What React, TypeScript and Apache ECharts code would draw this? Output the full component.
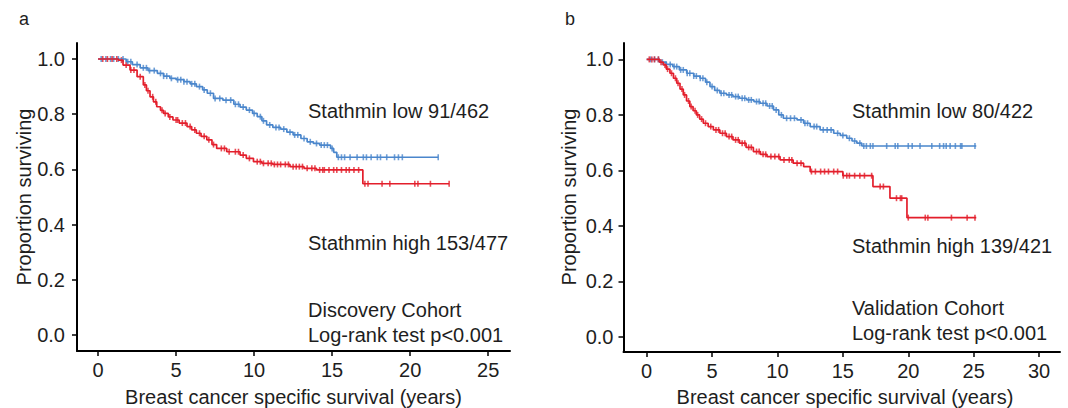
import React, { useEffect, useRef } from "react";
import * as echarts from "echarts";

// ---- Data ----
const xTicksA = [0, 5, 10, 15, 20, 25];
const xTicksB = [0, 5, 10, 15, 20, 25, 30];
const yTicks = [0, 0.2, 0.4, 0.6, 0.8, 1.0];

// Panel a – Discovery cohort: Kaplan-Meier steps [years, proportion]
const lowA: number[][] = [
  [0, 1], [1.4, 1.0], [1.8, 0.99], [2.2, 0.98], [2.7, 0.968], [3.2, 0.958], [3.8, 0.948], [4.2, 0.938],
  [4.6, 0.93], [5.0, 0.925], [5.5, 0.918], [5.9, 0.91], [6.3, 0.9], [6.7, 0.888], [7.0, 0.876], [7.4, 0.857],
  [8.0, 0.851], [8.7, 0.836], [9.1, 0.826], [9.5, 0.815], [9.9, 0.803], [10.2, 0.791], [10.5, 0.776],
  [10.8, 0.761], [11.2, 0.752], [11.7, 0.746], [12.1, 0.735], [12.5, 0.725], [13.0, 0.712], [13.4, 0.7],
  [13.8, 0.694], [14.2, 0.688], [14.9, 0.676], [15.1, 0.662], [15.3, 0.644], [21.8, 0.644],
];
const highA: number[][] = [
  [0, 1], [1.0, 1.0], [1.3, 0.996], [1.6, 0.978], [2.05, 0.96], [2.5, 0.936], [2.9, 0.906], [3.1, 0.885],
  [3.33, 0.863], [3.55, 0.845], [3.76, 0.827], [4.0, 0.814], [4.2, 0.803], [4.5, 0.79], [4.8, 0.779],
  [5.2, 0.768], [5.7, 0.755], [6.0, 0.743], [6.3, 0.731], [6.6, 0.72], [6.97, 0.707], [7.3, 0.69],
  [7.6, 0.676], [8.25, 0.664], [9.1, 0.652], [9.5, 0.64], [9.96, 0.628], [10.5, 0.622], [11.2, 0.618],
  [12.3, 0.61], [13.2, 0.604], [14.0, 0.598], [16.97, 0.548], [22.5, 0.548],
];
const censorLowA = [0.2, 0.5, 0.8, 1.0, 1.3, 1.6, 1.9, 2.1, 2.5, 2.9, 3.1, 3.3, 3.6, 4.0, 4.2, 4.4, 4.7, 5.1,
  5.3, 5.5, 5.7, 6.0, 6.2, 6.5, 6.8, 7.2, 7.5, 7.8, 8.2, 8.5, 8.8, 9.0, 9.3, 9.7, 10.0, 10.4, 10.6, 11.0,
  11.4, 11.6, 11.9, 12.3, 12.6, 12.8, 13.2, 13.6, 14.0, 14.3, 14.5, 14.7, 15.0, 15.4, 15.6, 15.8, 16.15,
  16.6, 17.0, 17.2, 17.5, 17.9, 18.1, 18.5, 19.0, 19.25, 19.5, 21.8];
const censorHighA = [0.3, 0.6, 0.9, 1.2, 1.5, 1.8, 2.1, 2.3, 2.7, 3.0, 3.2, 3.5, 3.7, 4.1, 4.3, 4.6, 5.0, 5.1,
  5.4, 5.6, 5.9, 6.2, 6.5, 6.8, 7.1, 7.4, 7.9, 8.1, 8.4, 8.8, 9.0, 9.3, 9.7, 10.2, 10.4, 10.6, 10.9, 11.1,
  11.3, 11.5, 11.7, 12.0, 12.2, 12.5, 12.7, 12.9, 13.1, 13.4, 13.7, 13.9, 14.2, 14.4, 14.5, 14.8, 15.1,
  15.3, 15.6, 15.9, 16.1, 16.4, 16.7, 17.1, 17.3, 18.2, 18.7, 20.3, 20.5, 21.3, 22.5];

// Panel b – Validation cohort
const lowB: number[][] = [
  [0, 1], [0.8, 1.0], [1.0, 0.99], [1.5, 0.982], [2.0, 0.974], [2.5, 0.962], [3.06, 0.95], [3.6, 0.94],
  [4.08, 0.932], [4.5, 0.918], [4.84, 0.902], [5.2, 0.888], [5.6, 0.878], [6.1, 0.872], [6.6, 0.866],
  [7.1, 0.86], [7.65, 0.854], [8.2, 0.848], [8.67, 0.842], [9.2, 0.832], [9.7, 0.818], [10.1, 0.8],
  [10.45, 0.788], [11.5, 0.782], [12.0, 0.77], [12.5, 0.758], [13.26, 0.746], [14.3, 0.734], [14.8, 0.726],
  [15.3, 0.716], [15.7, 0.706], [16.07, 0.698], [16.45, 0.688], [25.2, 0.688],
];
const highB: number[][] = [
  [0, 1], [0.77, 1.0], [1.0, 0.99], [1.27, 0.98], [1.5, 0.965], [1.78, 0.95], [2.05, 0.932], [2.3, 0.914],
  [2.55, 0.893], [2.8, 0.872], [3.05, 0.85], [3.3, 0.83], [3.55, 0.815], [3.8, 0.8], [4.05, 0.785],
  [4.33, 0.77], [4.7, 0.758], [5.1, 0.746], [5.6, 0.734], [6.1, 0.722], [6.6, 0.71], [7.1, 0.698],
  [7.6, 0.683], [8.16, 0.668], [8.7, 0.658], [9.2, 0.65], [10.2, 0.638], [11.2, 0.626], [12.0, 0.614],
  [12.5, 0.596], [15.0, 0.581], [17.3, 0.542], [18.6, 0.5], [19.9, 0.43], [25.2, 0.43],
];
const censorLowB = [0.3, 0.6, 0.9, 1.2, 1.5, 1.8, 2.1, 2.3, 2.6, 2.8, 3.1, 3.3, 3.6, 3.8, 4.1, 4.3, 4.6, 5.0,
  5.4, 5.7, 5.9, 6.3, 6.5, 6.8, 7.0, 7.3, 7.5, 7.8, 8.0, 8.4, 8.6, 8.9, 9.1, 9.4, 9.6, 9.9, 10.3, 10.7,
  11.0, 11.3, 11.8, 12.1, 12.3, 12.8, 13.0, 13.5, 13.8, 14.1, 14.6, 15.0, 15.5, 15.9, 16.3, 16.6, 16.8,
  17.1, 17.3, 18.35, 19.0, 19.2, 20.0, 20.3, 20.9, 21.8, 22.4, 22.7, 22.9, 23.2, 23.6, 24.0, 24.1, 25.1];
const censorHighB = [0.2, 0.4, 0.6, 0.9, 1.1, 1.4, 1.6, 1.9, 2.2, 2.4, 2.7, 2.9, 3.2, 3.4, 3.7, 3.9, 4.2, 4.5,
  4.9, 5.3, 5.5, 5.8, 6.0, 6.3, 6.5, 6.8, 7.0, 7.3, 7.5, 7.8, 8.0, 8.4, 8.6, 8.9, 9.1, 9.5, 9.8, 10.1, 10.5,
  10.9, 11.1, 11.5, 11.8, 12.6, 12.9, 13.3, 13.6, 13.9, 14.3, 14.6, 15.03, 15.3, 15.5, 15.9, 16.3, 16.65,
  17.2, 17.85, 18.1, 19.1, 19.4, 19.5, 20.0, 21.3, 21.5, 23.3, 24.5, 25.1];

const labelsA = ["Stathmin low 91/462", "Stathmin high 153/477", "Discovery Cohort", "Log-rank test p<0.001"];
const labelsB = ["Stathmin low 80/422", "Stathmin high 139/421", "Validation Cohort", "Log-rank test p<0.001"];
const xTitle = "Breast cancer specific survival (years)";
const yTitle = "Proportion surviving";

const BLUE = "#4a86cc";
const RED = "#e31e2b";
const TXT = "#1e1e1e";
const FONT = "'Liberation Sans', Arial, sans-serif";

function valueAt(curve: number[][], t: number): number {
  let v = curve[0][1];
  for (const p of curve) {
    if (p[0] <= t) v = p[1];
    else break;
  }
  return v;
}
const marks = (curve: number[][], times: number[]) => times.map((t) => [t, valueAt(curve, t)]);

export default function App() {
  const ref = useRef<HTMLDivElement>(null);
  useEffect(() => {
    if (!ref.current) return;
    const chart = echarts.init(ref.current, null, { renderer: "svg" });

    const xAxisBase = (gridIndex: number, min: number, max: number, ticks: number[]) => ({
      type: "value", gridIndex, min, max,
      axisLine: { show: true, onZero: false, lineStyle: { color: "#000", width: 2 } },
      axisTick: { show: true, customValues: ticks, length: 5, lineStyle: { color: "#000", width: 1.5 } },
      axisLabel: { show: true, customValues: ticks, fontSize: 20, color: TXT, fontFamily: FONT, margin: 9 },
      splitLine: { show: false },
    });
    const yAxisBase = (gridIndex: number, min: number, max: number, margin: number) => ({
      type: "value", gridIndex, min, max,
      axisLine: { show: true, onZero: false, lineStyle: { color: "#000", width: 2 } },
      axisTick: { show: true, customValues: yTicks, length: 5, lineStyle: { color: "#000", width: 1.5 } },
      axisLabel: {
        show: true, customValues: yTicks, fontSize: 20, color: TXT, fontFamily: FONT, margin,
        formatter: (v: number) => v.toFixed(1),
      },
      splitLine: { show: false },
    });

    const lineSeries = (data: number[][], color: string, idx: number) => ({
      type: "line", xAxisIndex: idx, yAxisIndex: idx, data, step: "end", showSymbol: false,
      lineStyle: { color, width: 1.7 }, silent: true,
    });
    const censorSeries = (data: number[][], color: string, idx: number) => ({
      type: "scatter", xAxisIndex: idx, yAxisIndex: idx, data, symbol: "rect", symbolSize: [1.6, 6],
      itemStyle: { color }, silent: true,
    });

    const txt = (text: string, x: number, y: number, extra: any = {}) => ({
      type: "text", x, y,
      style: { text, fontSize: 20, fontFamily: FONT, fill: TXT, textVerticalAlign: "middle", verticalAlign: "middle", ...extra },
    });

    chart.setOption({
      animation: false,
      backgroundColor: "#fff",
      grid: [
        { left: 77, top: 43, width: 433, height: 308 },
        { left: 623.5, top: 43, width: 436.5, height: 309 },
      ],
      xAxis: [xAxisBase(0, -1.35, 26.4, xTicksA), xAxisBase(1, -1.77, 31.6, xTicksB)],
      yAxis: [yAxisBase(0, -0.058, 1.058, 12), yAxisBase(1, -0.054, 1.059, 10)],
      series: [
        lineSeries(lowA, BLUE, 0),
        lineSeries(highA, RED, 0),
        censorSeries(marks(lowA, censorLowA), BLUE, 0),
        censorSeries(marks(highA, censorHighA), RED, 0),
        lineSeries(lowB, BLUE, 1),
        lineSeries(highB, RED, 1),
        censorSeries(marks(lowB, censorLowB), BLUE, 1),
        censorSeries(marks(highB, censorHighB), RED, 1),
      ],
      graphic: [
        txt("a", 24, 19, { fontSize: 18, align: "center" }),
        txt("b", 570, 19, { fontSize: 18, align: "center" }),
        txt(labelsA[0], 308, 111),
        txt(labelsA[1], 308, 243),
        txt(labelsA[2], 308, 310),
        txt(labelsA[3], 308, 335),
        txt(labelsB[0], 852, 111),
        txt(labelsB[1], 852, 246),
        txt(labelsB[2], 852, 308),
        txt(labelsB[3], 852, 333),
        txt(xTitle, 293.5, 397, { align: "center" }),
        txt(xTitle, 845, 397, { align: "center" }),
        { ...txt(yTitle, 0, 0, { align: "center" }), x: 24, y: 197, rotation: Math.PI / 2 },
        { ...txt(yTitle, 0, 0, { align: "center" }), x: 569, y: 197, rotation: Math.PI / 2 },
      ],
    });
    return () => chart.dispose();
  }, []);
  return <div ref={ref} style={{ position: "fixed", left: 0, top: 0, width: 1068, height: 408 }} />;
}
